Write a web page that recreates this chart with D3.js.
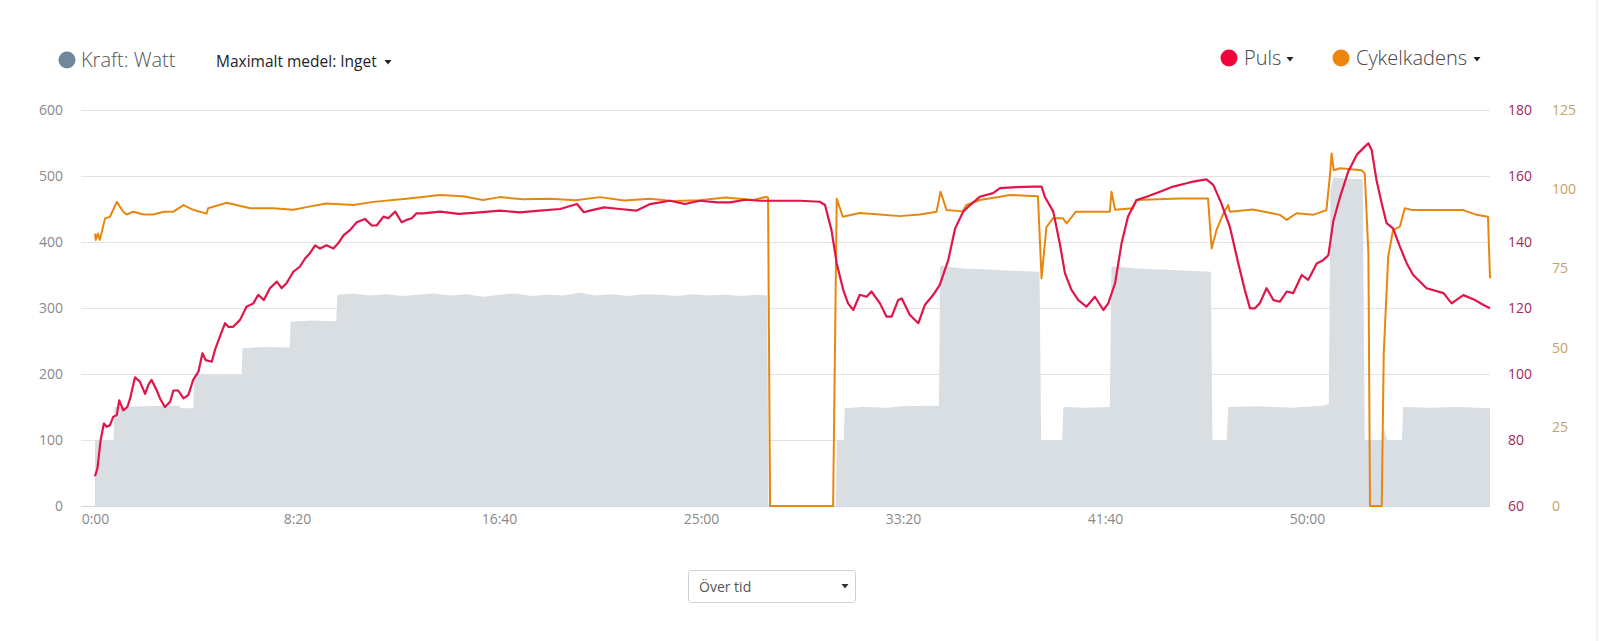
<!DOCTYPE html>
<html>
<head>
<meta charset="utf-8">
<script src="https://cdn.jsdelivr.net/npm/d3@7/dist/d3.min.js"></script>
<style>
  html, body { margin: 0; padding: 0; background: #fff; }
  svg { display: block; font-family: "Open Sans", "Noto Sans", sans-serif; }
</style>
</head>
<body>
<svg id="chart" width="1600" height="641"></svg>
<script>
// ---------- DATA ----------
// Power (W), time in seconds
const powerTime = [0, 46, 48, 120, 180, 209, 211, 243, 246, 300, 363, 365, 420, 482, 484, 540, 597, 600, 640, 680, 720, 760, 800, 840, 880, 920, 960, 1000, 1040, 1080, 1120, 1160, 1200, 1240, 1280, 1320, 1360, 1400, 1440, 1480, 1520, 1560, 1600, 1640, 1664, 1667, 1834, 1836, 1853, 1856, 1900, 1960, 2000, 2060, 2089, 2092, 2150, 2220, 2290, 2338, 2342, 2394, 2397, 2450, 2512, 2516, 2580, 2650, 2720, 2762, 2766, 2801, 2805, 2880, 2960, 3040, 3054, 3058, 3066, 3100, 3138, 3143, 3186, 3192, 3198, 3235, 3238, 3300, 3380, 3450, 3453];
const powerWatt = [100, 100, 150, 151, 152, 152, 148, 148, 200, 198, 199, 239, 241, 240, 279, 281, 280, 320, 322, 319, 321, 318, 320, 322, 319, 321, 317, 320, 322, 318, 320, 319, 323, 319, 321, 318, 321, 320, 318, 321, 319, 320, 318, 320, 319, 0, 0, 100, 100, 148, 150, 149, 151, 152, 152, 364, 360, 358, 356, 355, 100, 100, 150, 149, 150, 363, 360, 358, 356, 355, 100, 100, 150, 151, 149, 152, 155, 480, 498, 496, 495, 100, 100, 115, 100, 100, 150, 149, 150, 148, 148];

// Heart rate (bpm)
const pulseTime = [0, 6, 14, 22, 29, 37, 45, 54, 60, 70, 80, 87, 99, 111, 124, 132, 140, 153, 161, 173, 186, 194, 206, 219, 231, 243, 256, 266, 274, 289, 297, 309, 322, 330, 342, 359, 375, 392, 404, 418, 433, 450, 462, 474, 491, 507, 520, 532, 545, 557, 573, 590, 602, 615, 631, 648, 668, 685, 697, 714, 726, 743, 759, 771, 784, 796, 813, 854, 900, 953, 1002, 1052, 1101, 1151, 1193, 1210, 1225, 1260, 1299, 1340, 1374, 1423, 1460, 1497, 1540, 1572, 1610, 1646, 1695, 1745, 1794, 1807, 1823, 1836, 1852, 1864, 1877, 1893, 1910, 1922, 1943, 1959, 1972, 1988, 1997, 2017, 2038, 2054, 2075, 2091, 2112, 2129, 2149, 2166, 2190, 2223, 2240, 2281, 2322, 2343, 2351, 2372, 2388, 2401, 2417, 2434, 2454, 2475, 2496, 2508, 2525, 2541, 2557, 2578, 2603, 2636, 2669, 2702, 2718, 2751, 2768, 2788, 2809, 2830, 2846, 2859, 2871, 2883, 2900, 2917, 2933, 2950, 2966, 2987, 3003, 3024, 3040, 3053, 3065, 3082, 3102, 3123, 3143, 3152, 3160, 3172, 3185, 3197, 3213, 3230, 3247, 3263, 3296, 3338, 3358, 3387, 3416, 3437, 3453];
const pulseBpm = [69, 71.4, 80, 85, 84, 84.5, 87, 87.6, 92, 89, 90, 92.6, 99, 97.7, 94, 96.7, 98.2, 95, 92.6, 90, 91.6, 95, 95, 92.6, 93.6, 98.2, 100.7, 106.3, 104.2, 103.7, 107.3, 111.3, 115.4, 114.3, 114.3, 116.4, 120.4, 121.4, 124, 122.4, 126, 128, 126, 127.5, 131, 132.5, 135, 136.6, 139, 138, 139, 138, 139.6, 142, 143.6, 146, 147, 145, 145, 147.7, 147.2, 149.2, 146, 146.7, 147.2, 148.7, 148.7, 149.2, 148.5, 149, 149.5, 149, 149.5, 150, 151.5, 149, 149.5, 150.5, 150, 149.5, 151.5, 152.5, 151.5, 152.5, 152, 152, 152.8, 152.5, 152.5, 152.5, 152.2, 151.2, 143.6, 133.5, 125.5, 121.4, 119.4, 124, 123.4, 125, 121.4, 117.4, 117.4, 122.4, 122.9, 117.9, 115.4, 120.9, 124, 127, 134.5, 144.1, 149.2, 151.2, 153.7, 154.8, 156.3, 156.6, 156.8, 156.8, 153.7, 149.2, 139.6, 130.5, 125.5, 122.4, 120.4, 123.4, 119.4, 121.4, 127.5, 139.6, 147.7, 152.7, 153.7, 155.2, 156.8, 157.8, 158.3, 159, 157.3, 151.7, 144.6, 133.5, 125.5, 119.9, 119.9, 121.4, 126, 122.4, 121.9, 125, 124.5, 130, 128.5, 133.5, 134.5, 136, 146.2, 153.7, 161.3, 166.4, 168.9, 169.9, 167.9, 158.8, 151.7, 145.7, 144.1, 138.6, 133.5, 130, 126, 124.5, 121.4, 123.9, 122.4, 120.9, 119.9];

// Cadence (rpm)
const cadTime = [0, 2, 7, 12, 25, 37, 54, 70, 78, 95, 120, 144, 170, 194, 219, 243, 276, 280, 326, 384, 441, 491, 530, 573, 640, 689, 771, 854, 911, 960, 1002, 1060, 1126, 1190, 1250, 1310, 1374, 1430, 1497, 1560, 1596, 1630, 1662, 1666, 1671, 1827, 1836, 1851, 1893, 1943, 1992, 2042, 2083, 2093, 2108, 2148, 2157, 2190, 2240, 2265, 2334, 2343, 2355, 2371, 2396, 2405, 2428, 2512, 2516, 2525, 2569, 2578, 2685, 2755, 2764, 2776, 2793, 2805, 2809, 2866, 2933, 2950, 2974, 3015, 3048, 3057, 3061, 3066, 3082, 3135, 3143, 3152, 3156, 3185, 3190, 3201, 3213, 3230, 3242, 3262, 3387, 3420, 3448, 3453];
const cadRpm = [86, 84, 86, 84, 90.8, 91.3, 96, 92.9, 92, 92.9, 92, 92, 92.9, 92.9, 95, 93.5, 92.3, 94, 95.7, 94, 94, 93.5, 94.5, 95.5, 95, 96, 97, 98.2, 97.8, 96.6, 97.5, 96.8, 97, 96.5, 97.5, 96.4, 97, 96.3, 96.5, 97.4, 97, 96.6, 97.6, 97.3, 0, 0, 97, 91.3, 92.5, 92, 91.5, 92, 92.9, 99.2, 93.4, 93, 95, 96.6, 97.6, 98.2, 97.8, 71.9, 88, 90.8, 90.8, 89.2, 92.9, 92.9, 99.2, 93.5, 94, 96.6, 97.1, 97.1, 81.3, 87.1, 92.4, 95, 92.9, 93.6, 91.9, 90.3, 92.4, 91.9, 93.4, 104.5, 111.3, 106, 106.6, 106, 105, 79.8, 0, 0, 48.2, 78.7, 87.1, 88.2, 94, 93.4, 93.4, 91.9, 91.3, 71.9];

const powerTicks = [0, 100, 200, 300, 400, 500, 600];
const pulseTicks = [60, 80, 100, 120, 140, 160, 180];
const cadTicks = [0, 25, 50, 75, 100, 125];
const timeTicks = [0, 500, 1000, 1500, 2000, 2500, 3000];
const timeTickLabels = ["0:00", "8:20", "16:40", "25:00", "33:20", "41:40", "50:00"];

// ---------- LAYOUT ----------
const svg = d3.select("#chart");
const plotLeft = 81, plotRight = 1490, plotTop = 110, plotBottom = 506;

const x = d3.scaleLinear().domain([0, 3453]).range([95, 1490]);
const yPow = d3.scaleLinear().domain([0, 600]).range([plotBottom, plotTop]);
const yPulse = d3.scaleLinear().domain([60, 180]).range([plotBottom, plotTop]);
const yCad = d3.scaleLinear().domain([0, 125]).range([plotBottom, plotTop]);

// right border line
svg.append("line").attr("x1", 1597).attr("x2", 1597).attr("y1", 0).attr("y2", 641)
  .attr("stroke", "#e6e6e6").attr("stroke-width", 1);

// gridlines
svg.append("g").selectAll("line").data(powerTicks).join("line")
  .attr("x1", plotLeft).attr("x2", plotRight)
  .attr("y1", d => Math.round(yPow(d)) + 0.5).attr("y2", d => Math.round(yPow(d)) + 0.5)
  .attr("stroke", "#e3e3e3").attr("stroke-width", 1);

// power area
const powerData = powerTime.map((t, i) => ({ t, v: powerWatt[i] }));
const area = d3.area()
  .x(d => x(d.t)).y0(plotBottom).y1(d => yPow(d.v));
svg.append("path").datum(powerData).attr("d", area)
  .attr("fill", "#d9dee3");

// zero gridline over area
svg.append("line").attr("x1", plotLeft).attr("x2", plotRight)
  .attr("y1", plotBottom + 0.5).attr("y2", plotBottom + 0.5)
  .attr("stroke", "#d4d8dc").attr("stroke-width", 1);

// cadence line
const cadData = cadTime.map((t, i) => ({ t, v: cadRpm[i] }));
svg.append("path").datum(cadData)
  .attr("d", d3.line().x(d => x(d.t)).y(d => yCad(d.v)))
  .attr("fill", "none").attr("stroke", "#e8870f").attr("stroke-width", 2)
  .attr("stroke-linejoin", "round");

// pulse line
const pulseData = pulseTime.map((t, i) => ({ t, v: pulseBpm[i] }));
svg.append("path").datum(pulseData)
  .attr("d", d3.line().x(d => x(d.t)).y(d => yPulse(d.v)))
  .attr("fill", "none").attr("stroke", "#e01549").attr("stroke-width", 2.2)
  .attr("stroke-linejoin", "round");

// left axis
const leftAxis = d3.axisLeft(yPow).tickValues(powerTicks).tickSize(0).tickPadding(0);
const gl = svg.append("g").attr("transform", "translate(63,0)").call(leftAxis);
gl.select(".domain").remove();
gl.selectAll("text").attr("fill", "#8a8a8a").style("font-size", "14px")
  .style("font-family", "'Open Sans', sans-serif");

// right pulse axis
const pulseAxis = d3.axisRight(yPulse).tickValues(pulseTicks).tickSize(0).tickPadding(0);
const gp = svg.append("g").attr("transform", "translate(1508,0)").call(pulseAxis);
gp.select(".domain").remove();
gp.selectAll("text").attr("fill", "#9d2b5c").style("font-size", "14px")
  .style("font-family", "'Open Sans', sans-serif");

// right cadence axis
const cadAxis = d3.axisRight(yCad).tickValues(cadTicks).tickSize(0).tickPadding(0);
const gc = svg.append("g").attr("transform", "translate(1552,0)").call(cadAxis);
gc.select(".domain").remove();
gc.selectAll("text").attr("fill", "#c9a163").style("font-size", "14px")
  .style("font-family", "'Open Sans', sans-serif");

// bottom axis
const bottomAxis = d3.axisBottom(x).tickValues(timeTicks)
  .tickFormat((d, i) => timeTickLabels[i]).tickSize(0).tickPadding(0);
const gb = svg.append("g").attr("transform", "translate(0,514)").call(bottomAxis);
gb.select(".domain").remove();
gb.selectAll("text").attr("fill", "#8a8a8a").style("font-size", "14px")
  .style("font-family", "'Open Sans', sans-serif");

// ---------- LEGENDS ----------
function caret(cx, cy, col) {
  svg.append("path")
    .attr("d", `M${cx - 3.5},${cy - 2} L${cx + 3.5},${cy - 2} L${cx},${cy + 2.5} Z`)
    .attr("fill", col || "#222");
}

svg.append("circle").attr("cx", 67).attr("cy", 60).attr("r", 8.5).attr("fill", "#6f889b");
svg.append("text").attr("x", 81).attr("y", 67).text("Kraft: Watt")
  .attr("fill", "#555").style("font-size", "20px").style("font-weight", 300);

svg.append("text").attr("x", 216).attr("y", 67).text("Maximalt medel: Inget")
  .attr("fill", "#222").style("font-size", "15.5px");
caret(388, 62);

svg.append("circle").attr("cx", 1229).attr("cy", 58).attr("r", 8.5).attr("fill", "#f0063c");
svg.append("text").attr("x", 1244).attr("y", 65).text("Puls")
  .attr("fill", "#444").style("font-size", "20px").style("font-weight", 300);
caret(1290, 59);

svg.append("circle").attr("cx", 1341).attr("cy", 58).attr("r", 8.5).attr("fill", "#ed850c");
svg.append("text").attr("x", 1356).attr("y", 65).text("Cykelkadens")
  .attr("fill", "#444").style("font-size", "20px").style("font-weight", 300);
caret(1477, 59);

// ---------- DROPDOWN ----------
svg.append("rect").attr("x", 688.5).attr("y", 570.5).attr("width", 167).attr("height", 32)
  .attr("rx", 3).attr("fill", "#fff").attr("stroke", "#cfcfcf");
svg.append("text").attr("x", 699).attr("y", 592).text("Över tid")
  .attr("fill", "#555").style("font-size", "14px");
caret(845, 586, "#333");
</script>
</body>
</html>
